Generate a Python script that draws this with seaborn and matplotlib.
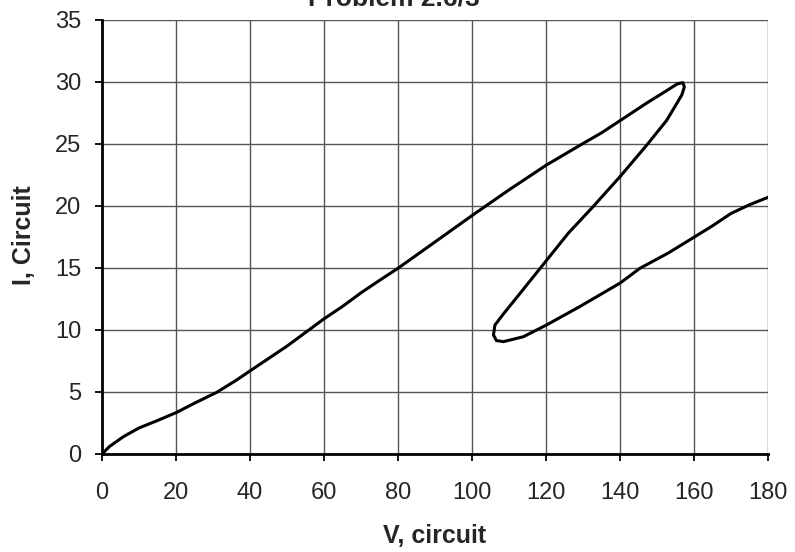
import matplotlib
matplotlib.use("Agg")
import matplotlib.pyplot as plt
import seaborn as sns
import pandas as pd

V = [0, 2, 5.8, 10, 15, 20.2, 25, 31, 36.4, 40, 45, 50, 55, 60, 65, 70, 75, 80.1,
     90, 100.1, 110, 120.1, 129.2, 135, 140.1, 147.2, 152.6, 155.5, 157.0, 157.4,
     156.7, 152.6, 147.2, 140.1, 132.8, 126, 120.1, 113, 108.5, 106.2, 105.8, 106.6,
     108.5, 113.9, 120.1, 129.2, 140.1, 145.4, 153, 160.1, 165, 170, 175, 180]
I = [0, 0.6, 1.4, 2.1, 2.7, 3.36, 4.1, 4.97, 5.97, 6.7, 7.7, 8.7, 9.8, 10.9, 11.9,
     13.0, 14.0, 15.0, 17.1, 19.25, 21.3, 23.3, 24.9, 25.9, 26.9, 28.3, 29.3,
     29.85, 29.95, 29.6, 28.95, 26.9, 24.9, 22.4, 19.97, 17.8, 15.6, 12.96, 11.3, 10.4,
     9.6, 9.15, 9.06, 9.46, 10.4, 11.9, 13.8, 14.98, 16.2, 17.5, 18.4, 19.4, 20.1, 20.7]

x_ticks = list(range(0, 181, 20))
y_ticks = list(range(0, 36, 5))

df = pd.DataFrame({"V": V, "I": I})

sns.set_style("white")
plt.rcParams["font.family"] = ["Liberation Sans", "DejaVu Sans"]

fig = plt.figure(figsize=(7.95, 5.52), dpi=100)
ax = fig.add_axes([102 / 795, 1 - 454 / 552, (768 - 102) / 795, (454 - 20) / 552])

sns.lineplot(data=df, x="V", y="I", sort=False, estimator=None, color="black",
             linewidth=2.2, ax=ax, zorder=3)

ax.set_xlim(0, 180)
ax.set_ylim(0, 35)
ax.set_xticks(x_ticks)
ax.set_yticks(y_ticks)
ax.grid(True, color="#555555", linewidth=1.0)
ax.set_axisbelow(True)

for s in ["top", "right"]:
    ax.spines[s].set_visible(False)
for s in ["left", "bottom"]:
    ax.spines[s].set_color("black")
    ax.spines[s].set_linewidth(2)

ax.tick_params(axis="both", direction="out", length=5, width=1.3, color="black",
               labelsize=17, bottom=True, left=True)
ax.tick_params(axis="x", pad=15)
ax.tick_params(axis="y", pad=10)

ax.set_xlabel("V, circuit", fontsize=18, fontweight="bold")
ax.set_ylabel("I, Circuit", fontsize=18, fontweight="bold")
ax.xaxis.label.set_va("center")
ax.yaxis.label.set_va("center")
ax.xaxis.set_label_coords(0.5, (454 - 536) / 434)
ax.yaxis.set_label_coords((24 - 102) / 666, (454 - 235) / 434)

fig.text(394 / 795, 1 - 6 / 552, "Problem 2.6/3", ha="center", va="baseline",
         fontsize=19, fontweight="bold")

fig.savefig("out.png", dpi=100)
